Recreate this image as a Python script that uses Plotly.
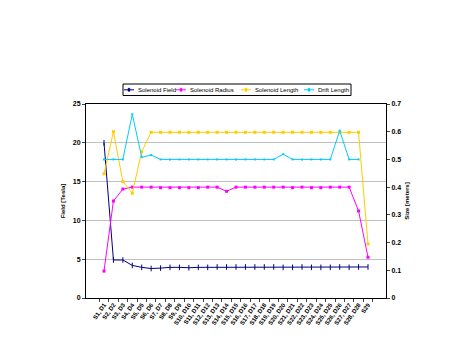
import plotly.graph_objects as go

categories = [f"S{i}, D{i}" for i in range(1, 29)] + ["S29"]

field = [20.0, 4.9, 4.9, 4.2, 3.95, 3.8, 3.85, 3.95, 3.95, 3.9, 3.95, 3.95, 4.0, 4.0,
         4.0, 4.0, 4.0, 4.0, 4.0, 3.95, 3.95, 4.0, 3.95, 3.95, 3.95, 4.0, 3.95, 4.0, 4.0]

radius = [0.097, 0.35, 0.393, 0.40, 0.40, 0.40, 0.398, 0.398, 0.398, 0.398, 0.398, 0.40,
          0.40, 0.385, 0.40, 0.40, 0.40, 0.40, 0.40, 0.40, 0.398, 0.40, 0.398, 0.398,
          0.40, 0.40, 0.40, 0.314, 0.147]

length = [0.448, 0.60, 0.42, 0.378, 0.528, 0.598, 0.598, 0.598, 0.598, 0.598, 0.598, 0.598,
          0.598, 0.598, 0.598, 0.598, 0.598, 0.598, 0.598, 0.598, 0.598, 0.598, 0.598, 0.598,
          0.598, 0.598, 0.598, 0.598, 0.195]

drift = [0.50, 0.50, 0.50, 0.663, 0.508, 0.516, 0.50, 0.50, 0.50, 0.50, 0.50, 0.50, 0.50,
         0.50, 0.50, 0.50, 0.50, 0.50, 0.50, 0.519, 0.50, 0.50, 0.50, 0.50, 0.50, 0.604,
         0.50, 0.50, None]

series_names = ["Solenoid Field", "Solenoid Radius", "Solenoid Length", "Drift Length"]
series_colors = ["#000080", "#FF00FF", "#FFCC00", "#00CCFF"]

FONT = "Arial, Liberation Sans, sans-serif"

fig = go.Figure()
fig.add_trace(go.Scatter(x=categories, y=field, name=series_names[0], mode="lines+markers",
                         line=dict(color=series_colors[0], width=1),
                         marker=dict(symbol="line-ns", size=4, line=dict(color=series_colors[0], width=1))))
fig.add_trace(go.Scatter(x=categories, y=radius, name=series_names[1], mode="lines+markers",
                         yaxis="y2", line=dict(color=series_colors[1], width=1),
                         marker=dict(symbol="square", size=3, color=series_colors[1])))
fig.add_trace(go.Scatter(x=categories, y=length, name=series_names[2], mode="lines+markers",
                         yaxis="y2", line=dict(color=series_colors[2], width=1),
                         marker=dict(symbol="square", size=3, color=series_colors[2])))
fig.add_trace(go.Scatter(x=categories, y=drift, name=series_names[3], mode="lines+markers",
                         yaxis="y2", line=dict(color=series_colors[3], width=1),
                         marker=dict(symbol="square", size=2, color=series_colors[3])))

# Custom compact legend (paper coordinates; plot area spans px 86..386, 104..298 on screen)
def px_x(p):
    return (p - 86) / 300.0

def px_y(p):
    return (298 - p) / 194.0

shapes = [dict(type="rect", xref="paper", yref="paper",
               x0=px_x(123), x1=px_x(351), y0=px_y(95.5), y1=px_y(84),
               line=dict(color="black", width=1), fillcolor="white", layer="above")]
annotations = []
sym_starts = [124, 176, 241, 304]
ly = 89.8
for name, color, sx in zip(series_names, series_colors, sym_starts):
    shapes.append(dict(type="line", xref="paper", yref="paper",
                       x0=px_x(sx), x1=px_x(sx + 10), y0=px_y(ly), y1=px_y(ly),
                       line=dict(color=color, width=1), layer="above"))
    shapes.append(dict(type="rect", xref="paper", yref="paper",
                       x0=px_x(sx + 4), x1=px_x(sx + 6), y0=px_y(ly + 1.5), y1=px_y(ly - 1.5),
                       line=dict(color=color, width=0.5), fillcolor=color, layer="above"))
    annotations.append(dict(text=name, xref="paper", yref="paper", x=px_x(sx + 11.5), y=px_y(ly),
                            xanchor="left", yanchor="middle", showarrow=False,
                            font=dict(size=6, family=FONT, color="black")))

# page body has an 8px default margin, so offsets are compensated here
fig.update_layout(
    width=476, height=357,
    margin=dict(l=78, r=98, t=96, b=67, autoexpand=False),
    paper_bgcolor="white", plot_bgcolor="white",
    font=dict(family=FONT, size=7, color="black"),
    showlegend=False,
    shapes=shapes, annotations=annotations,
    xaxis=dict(type="category", showline=True, linecolor="black", linewidth=1, mirror=True,
               ticks="outside", ticklen=3, tickson="boundaries", tickangle=-55,
               tickfont=dict(size=6, family=FONT, weight="bold"), showgrid=False, automargin=False),
    yaxis=dict(range=[0, 25], dtick=5, showline=True, linecolor="black", linewidth=1,
               ticks="outside", ticklen=3, showgrid=True, gridcolor="#C0C0C0", gridwidth=1,
               zeroline=False, tickfont=dict(size=7, family=FONT, weight="bold"), automargin=False,
               title=dict(text="<b>Field [Tesla]</b>", font=dict(size=6), standoff=6)),
    yaxis2=dict(range=[0, 0.7], dtick=0.1, overlaying="y", side="right", showline=True,
                linecolor="black", linewidth=1, ticks="outside", ticklen=3, showgrid=False,
                zeroline=False, tickfont=dict(size=7, family=FONT, weight="bold"), automargin=False,
                title=dict(text="<b>Size [meters]</b>", font=dict(size=6), standoff=4)),
)

fig.write_html("out.html")
